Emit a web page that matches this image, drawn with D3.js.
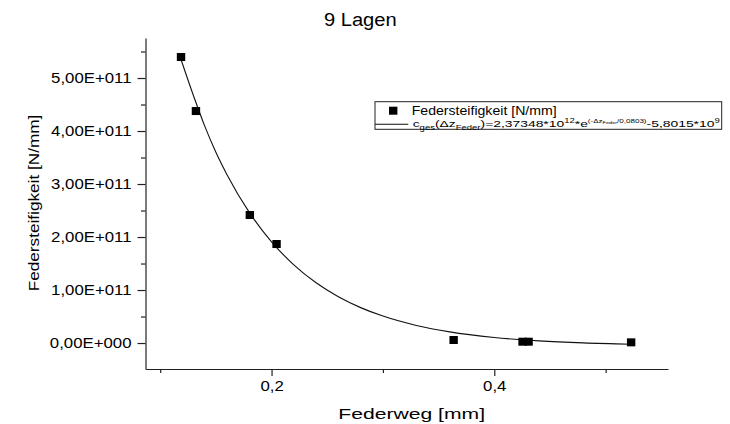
<!DOCTYPE html>
<html><head><meta charset="utf-8">
<script src="https://cdnjs.cloudflare.com/ajax/libs/d3/7.8.5/d3.min.js"></script>
<style>
body{margin:0;background:#fff;}
text{font-family:"Liberation Sans",Arial,sans-serif;fill:#000;}
</style></head>
<body><svg id="c" width="730" height="424"></svg>
<script>
// ---- data ----
const federweg = [0.1187, 0.1321, 0.1805, 0.2045, 0.3635, 0.4254, 0.4308, 0.5229];
const steifigkeit = [5.396e11, 4.377e11, 2.415e11, 1.868e11, 0.057e11, 0.025e11, 0.025e11, 0.013e11];
const fitX = [0.1187, 0.13, 0.14, 0.15, 0.16, 0.18, 0.20, 0.22, 0.24, 0.26, 0.28, 0.30, 0.33, 0.36, 0.40, 0.44, 0.48, 0.5229];
const fitY = [5.35e11, 4.66e11, 4.093e11, 3.60e11, 3.177e11, 2.465e11, 1.908e11, 1.475e11, 1.136e11, 0.873e11, 0.668e11, 0.508e11, 0.332e11, 0.210e11, 0.105e11, 0.041e11, 0.002e11, -0.022e11];
const yTickValues = [0, 1e11, 2e11, 3e11, 4e11, 5e11];
const yTickLabels = ["0,00E+000", "1,00E+011", "2,00E+011", "3,00E+011", "4,00E+011", "5,00E+011"];
const yMinorValues = [0.5e11, 1.5e11, 2.5e11, 3.5e11, 4.5e11, 5.5e11];
const xTickValues = [0.2, 0.4];
const xTickLabels = ["0,2", "0,4"];
const xMinorValues = [0.1, 0.3, 0.5];
const title = "9 Lagen";
const xTitle = "Federweg [mm]";
const yTitle = "Federsteifigkeit [N/mm]";
const legendPoints = "Federsteifigkeit [N/mm]";

// ---- chart ----
const svg = d3.select("#c");
const x = d3.scaleLinear().domain([0.0868, 0.556]).range([145.5, 668]);
const y = d3.scaleLinear().domain([-0.49e11, 5.755e11]).range([369, 38]);

function fit(sel, w) { sel.each(function(){ this.setAttribute("textLength", w); this.setAttribute("lengthAdjust", "spacingAndGlyphs"); }); }
function stretch(sel, f) { sel.each(function(){ const l = this.getComputedTextLength(); this.setAttribute("textLength", l * f); this.setAttribute("lengthAdjust", "spacingAndGlyphs"); }); }

// axes
const yAxis = svg.append("g").attr("transform", "translate(145.5,0)")
  .call(d3.axisLeft(y).tickValues(yTickValues).tickSize(8).tickSizeOuter(0).tickPadding(6)
    .tickFormat((d, i) => yTickLabels[i]));
yAxis.selectAll("text").style("font-size", "14px").attr("fill", "#000");
const yf = 81.7 / yAxis.select("text").node().getComputedTextLength();
stretch(yAxis.selectAll("text"), yf);
svg.append("g").attr("transform", "translate(145.5,0)")
  .call(d3.axisLeft(y).tickValues(yMinorValues).tickSize(4.5).tickSizeOuter(0).tickFormat(""))
  .select(".domain").remove();

const xAxis = svg.append("g").attr("transform", "translate(0,369)")
  .call(d3.axisBottom(x).tickValues(xTickValues).tickSize(7).tickSizeOuter(0).tickPadding(5)
    .tickFormat((d, i) => xTickLabels[i]));
xAxis.selectAll("text").style("font-size", "14px").attr("fill", "#000");
stretch(xAxis.selectAll("text"), 1.2);
svg.append("g").attr("transform", "translate(0,369)")
  .call(d3.axisBottom(x).tickValues(xMinorValues).tickSize(4).tickSizeOuter(0).tickFormat(""))
  .select(".domain").remove();
svg.selectAll(".domain, .tick line").attr("stroke", "#222").attr("stroke-width", 1.2);

// fit curve
svg.append("path").datum(fitX.map((d, i) => [d, fitY[i]]))
  .attr("fill", "none").attr("stroke", "#111").attr("stroke-width", 1.1)
  .attr("d", d3.line().x(d => x(d[0])).y(d => y(d[1])).curve(d3.curveMonotoneX));

// points
svg.append("g").selectAll("rect").data(federweg.map((d, i) => [d, steifigkeit[i]])).join("rect")
  .attr("x", d => x(d[0]) - 4.2).attr("y", d => y(d[1]) - 4).attr("width", 8.4).attr("height", 8)
  .attr("fill", "#000");

// titles
const t = svg.append("text").attr("x", 360.3).attr("y", 26).attr("text-anchor", "middle").style("font-size", "18px").text(title);
fit(t, 72.7);
const xt = svg.append("text").attr("x", 411.7).attr("y", 419).attr("text-anchor", "middle").style("font-size", "15px").text(xTitle);
fit(xt, 146.7);
const yt = svg.append("text").attr("transform", "translate(38.5,203) rotate(-90)").attr("text-anchor", "middle").style("font-size", "15px").text(yTitle);
fit(yt, 176.7);

// legend
const lg = svg.append("g");
lg.append("rect").attr("x", 375).attr("y", 101.7).attr("width", 346.7).attr("height", 27.6)
  .attr("fill", "#fff").attr("stroke", "#222").attr("stroke-width", 1);
lg.append("rect").attr("x", 389).attr("y", 106.7).attr("width", 8.4).attr("height", 8).attr("fill", "#000");
const l1 = lg.append("text").attr("x", 411.7).attr("y", 115).style("font-size", "13.5px").text(legendPoints);
fit(l1, 145);
lg.append("line").attr("x1", 375).attr("x2", 408.3).attr("y1", 124.3).attr("y2", 124.3).attr("stroke", "#111").attr("stroke-width", 1.1);
const l2 = lg.append("text").attr("x", 412.7).attr("y", 127.3).style("font-size", "9.5px");
const parts = [
  ["c", 9.5, 0], ["ges", 6.5, 2.5], ["(\u0394z", 9.5, -2.5], ["Feder", 6.5, 2.5], [")=2,37348*10", 9.5, -2.5],
  ["12", 6.5, -4], ["*e", 9.5, 4], ["(-\u0394z", 5.5, -4.5], ["Feder", 3.8, 1.2], ["/0,0803)", 5.5, -1.2],
  ["-5,8015*10", 9.5, 4.5], ["9", 6.5, -4]
];
parts.forEach(p => l2.append("tspan").attr("dy", p[2]).style("font-size", p[1] + "px").text(p[0]));
fit(l2, 307);
</script></body></html>
